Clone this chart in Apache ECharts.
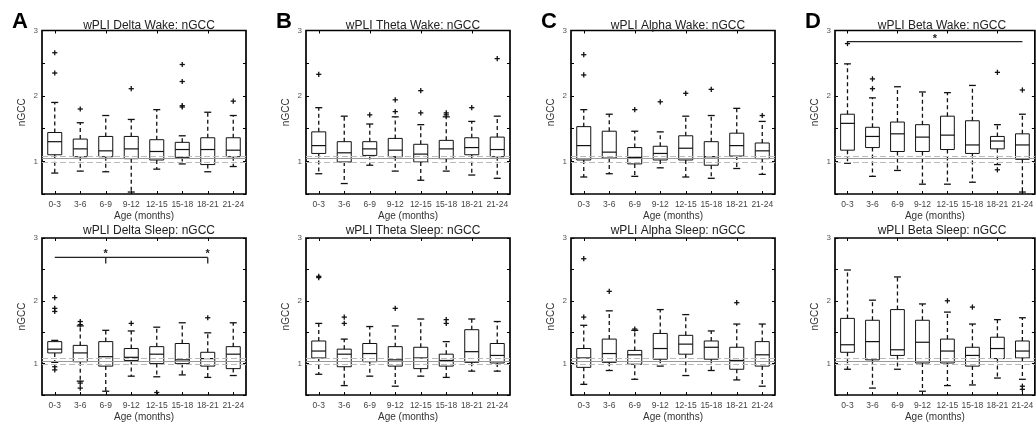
<!DOCTYPE html>
<html><head><meta charset="utf-8">
<script src="https://cdn.jsdelivr.net/npm/echarts@6/dist/echarts.min.js"></script>
<style>html,body{margin:0;padding:0;background:#fff}#c{width:1036px;height:423px}</style>
</head><body><div id="c"></div><script>
const categories = ['0-3','3-6','6-9','9-12','12-15','15-18','18-21','21-24'];
const yTicks = [0.5, 3, 0.5]; // min, max, interval
const refLevels = [1.08, 1.04, 0.99];

// [min, Q1, median, Q3, max]
const deltaWakeBox = [[0.82,1.10,1.30,1.44,1.90],[0.85,1.07,1.19,1.34,1.59],[0.84,1.07,1.16,1.38,1.70],[0.53,1.04,1.19,1.38,1.64],[0.88,1.02,1.15,1.33,1.79],[0.96,1.06,1.18,1.29,1.39],[0.84,0.95,1.18,1.36,1.75],[0.92,1.07,1.17,1.36,1.70]];
const deltaWakeOut = [[0,2.66],[0,2.35],[1,1.80],[3,2.11],[5,2.48],[5,2.22],[5,1.85],[5,1.83],[7,1.92]];
const deltaSleepBox = [[1.02,1.17,1.23,1.35,1.37],[0.72,1.03,1.17,1.29,1.60],[0.56,0.96,1.11,1.35,1.53],[0.80,1.05,1.10,1.24,1.52],[0.79,1.00,1.15,1.27,1.58],[0.82,1.00,1.06,1.32,1.65],[0.78,0.96,1.08,1.18,1.49],[0.81,0.92,1.15,1.27,1.65]];
const deltaSleepOut = [[0,2.05],[0,1.88],[0,1.83],[0,0.95],[0,0.90],[1,1.67],[1,1.62],[1,0.69],[1,0.61],[3,1.64],[4,0.54],[6,1.73]];
const thetaWakeBox = [[0.81,1.12,1.24,1.45,1.82],[0.66,0.99,1.13,1.30,1.69],[0.94,1.09,1.19,1.30,1.57],[0.85,1.07,1.17,1.35,1.68],[0.71,0.99,1.11,1.26,1.56],[0.85,1.04,1.19,1.32,1.68],[0.79,1.10,1.21,1.36,1.61],[0.74,1.07,1.18,1.37,1.69]];
const thetaWakeOut = [[0,2.33],[2,1.71],[3,1.94],[3,1.76],[4,2.08],[4,1.74],[5,1.74],[5,1.71],[6,1.82],[7,2.57]];
const thetaSleepBox = [[0.83,1.09,1.20,1.36,1.64],[0.65,0.95,1.15,1.23,1.39],[0.80,1.03,1.16,1.32,1.59],[0.64,0.96,1.06,1.27,1.60],[0.80,0.92,1.09,1.26,1.71],[0.78,0.96,1.05,1.15,1.35],[0.88,1.02,1.19,1.54,1.71],[0.88,1.01,1.13,1.32,1.67]];
const thetaSleepOut = [[0,2.39],[0,2.37],[1,1.74],[1,1.64],[3,1.88],[5,1.70],[5,1.64]];
const alphaWakeBox = [[0.76,1.02,1.24,1.53,1.79],[0.81,1.05,1.14,1.46,1.72],[0.77,0.96,1.06,1.21,1.46],[0.90,1.02,1.12,1.23,1.45],[0.76,1.02,1.20,1.39,1.69],[0.74,0.94,1.07,1.30,1.70],[0.89,1.08,1.24,1.43,1.81],[0.80,1.04,1.16,1.28,1.61]];
const alphaWakeOut = [[0,2.63],[0,2.32],[2,1.79],[3,1.91],[4,2.04],[5,2.10],[7,1.70]];
const alphaSleepBox = [[0.67,0.94,1.09,1.24,1.61],[0.89,1.02,1.16,1.39,1.84],[0.75,0.99,1.14,1.21,1.53],[0.96,1.07,1.24,1.48,1.86],[0.81,1.15,1.31,1.45,1.78],[0.89,1.07,1.26,1.36,1.52],[0.74,0.91,1.05,1.26,1.63],[0.64,0.96,1.14,1.35,1.63]];
const alphaSleepOut = [[0,2.67],[0,1.74],[1,2.15],[2,1.55],[6,1.97]];
const betaWakeBox = [[0.97,1.17,1.58,1.72,2.49],[0.77,1.21,1.38,1.52,1.97],[0.86,1.15,1.42,1.60,2.14],[0.65,1.15,1.37,1.56,2.06],[0.65,1.18,1.40,1.69,2.05],[0.68,1.12,1.25,1.62,2.16],[0.95,1.19,1.31,1.38,1.56],[0.53,1.03,1.25,1.42,1.72]];
const betaWakeOut = [[0,2.80],[1,2.26],[1,2.11],[6,2.36],[6,0.87],[7,2.09]];
const betaSleepBox = [[0.91,1.18,1.30,1.72,2.49],[0.61,1.06,1.35,1.69,2.01],[0.91,1.13,1.22,1.86,2.38],[0.56,1.01,1.34,1.69,1.95],[0.65,1.01,1.20,1.39,1.82],[0.66,0.96,1.13,1.26,1.63],[0.77,1.08,1.24,1.42,1.70],[0.75,1.09,1.20,1.36,1.73]];
const betaSleepOut = [[4,2.00],[5,1.90],[7,0.64],[7,0.59]];

// significance: [fromIdx, toIdx, level], star positions
const deltaSleepSig = [0, 6, 2.69];
const deltaSleepStars = [2, 6];
const betaWakeSig = [0, 7, 2.83];
const betaWakeStars = [3.5];

const panels = [
  {letter:'A', title:'wPLI Delta Wake: nGCC', box:deltaWakeBox, out:deltaWakeOut, col:0, row:0},
  {letter:null, title:'wPLI Delta Sleep: nGCC', box:deltaSleepBox, out:deltaSleepOut, col:0, row:1, sig:deltaSleepSig, stars:deltaSleepStars, tickDown:true},
  {letter:'B', title:'wPLI Theta Wake: nGCC', box:thetaWakeBox, out:thetaWakeOut, col:1, row:0},
  {letter:null, title:'wPLI Theta Sleep: nGCC', box:thetaSleepBox, out:thetaSleepOut, col:1, row:1},
  {letter:'C', title:'wPLI Alpha Wake: nGCC', box:alphaWakeBox, out:alphaWakeOut, col:2, row:0},
  {letter:null, title:'wPLI Alpha Sleep: nGCC', box:alphaSleepBox, out:alphaSleepOut, col:2, row:1},
  {letter:'D', title:'wPLI Beta Wake: nGCC', box:betaWakeBox, out:betaWakeOut, col:3, row:0, sig:betaWakeSig, stars:betaWakeStars, tickDown:false},
  {letter:null, title:'wPLI Beta Sleep: nGCC', box:betaSleepBox, out:betaSleepOut, col:3, row:1}
];

const colLeft = [42, 306, 571, 835];
const rowTop = [30.5, 238];
const rowH = [163.5, 162];
const titleTop = [14.5, 219.5];
const gridW = 204;
const FONT = '"Liberation Sans", Arial, sans-serif';

const grid = [], xAxis = [], yAxis = [], series = [], title = [], graphic = [];

panels.forEach((p, g) => {
  const left = colLeft[p.col], top = rowTop[p.row], h = rowH[p.row];
  grid.push({left: left, top: top, width: gridW, height: h, show: true, borderColor: '#000', borderWidth: 1.7, backgroundColor: 'transparent'});
  xAxis.push({type:'category', gridIndex:g, data:categories, position:'bottom', boundaryGap:true,
    axisLine:{show:false}, axisTick:{show:true, inside:true, alignWithLabel:true, length:3, lineStyle:{color:'#000'}},
    axisLabel:{fontSize:8.5, color:'#444', margin:6, fontFamily:FONT, interval:0},
    name:'Age (months)', nameLocation:'middle', nameGap:17, nameTextStyle:{fontSize:10, color:'#333', fontFamily:FONT}});
  xAxis.push({type:'category', gridIndex:g, data:categories, position:'top', boundaryGap:true,
    axisLine:{show:false}, axisTick:{show:true, inside:true, alignWithLabel:true, length:3, lineStyle:{color:'#000'}},
    axisLabel:{show:false}});
  yAxis.push({type:'value', gridIndex:g, min:yTicks[0], max:yTicks[1], interval:yTicks[2], position:'left',
    axisLine:{show:false}, splitLine:{show:false},
    axisTick:{show:true, inside:true, length:3, lineStyle:{color:'#000'}},
    axisLabel:{fontSize:8, color:'#555', margin:4, fontFamily:FONT, formatter: v => Number.isInteger(v) ? String(v) : ''},
    name:'nGCC', nameLocation:'middle', nameGap:15, nameTextStyle:{fontSize:10, color:'#333', fontFamily:FONT}});
  yAxis.push({type:'value', gridIndex:g, min:yTicks[0], max:yTicks[1], interval:yTicks[2], position:'right',
    axisLine:{show:false}, splitLine:{show:false},
    axisTick:{show:true, inside:true, length:3, lineStyle:{color:'#000'}}, axisLabel:{show:false}});

  const xi = g*2, yi = g*2;
  // reference lines
  series.push({type:'line', xAxisIndex:xi, yAxisIndex:yi, data:[], silent:true,
    markLine:{silent:true, symbol:'none', label:{show:false}, animation:false,
      data: refLevels.map((v, k) => ({yAxis:v, lineStyle:{color: k===1 ? '#999' : '#bbb', width:1, type: k===1 ? 'solid' : [6,3]}}))}});
  // boxes
  series.push({type:'custom', xAxisIndex:xi, yAxisIndex:yi,
    data: p.box.map((b, i) => [i].concat(b)),
    renderItem: (params, api) => {
      const i = api.value(0);
      const pMin = api.coord([i, api.value(1)]);
      const pQ1 = api.coord([i, api.value(2)]);
      const pMed = api.coord([i, api.value(3)]);
      const pQ3 = api.coord([i, api.value(4)]);
      const pMax = api.coord([i, api.value(5)]);
      const bw = api.size([1, 0])[0] * 0.55;
      const cw = bw * 0.5;
      const x = pMed[0];
      const st = {stroke:'#111', lineWidth:1, fill:null};
      const dash = {stroke:'#111', lineWidth:1.3, lineDash:[4,3], fill:null};
      return {type:'group', children:[
        {type:'line', shape:{x1:x, y1:pQ3[1], x2:x, y2:pMax[1]}, style:dash},
        {type:'line', shape:{x1:x, y1:pQ1[1], x2:x, y2:pMin[1]}, style:dash},
        {type:'line', shape:{x1:x-cw/2, y1:pMax[1], x2:x+cw/2, y2:pMax[1]}, style:{stroke:'#111', lineWidth:1.3}},
        {type:'line', shape:{x1:x-cw/2, y1:pMin[1], x2:x+cw/2, y2:pMin[1]}, style:{stroke:'#111', lineWidth:1.3}},
        {type:'rect', shape:{x:x-bw/2, y:pQ3[1], width:bw, height:pQ1[1]-pQ3[1]}, style:st},
        {type:'line', shape:{x1:x-bw/2, y1:pMed[1], x2:x+bw/2, y2:pMed[1]}, style:{stroke:'#111', lineWidth:1.2}}
      ]};
    }});
  // outliers
  series.push({type:'custom', xAxisIndex:xi, yAxisIndex:yi, data:p.out,
    renderItem: (params, api) => {
      const c = api.coord([api.value(0), api.value(1)]);
      const s = 2.6;
      return {type:'group', children:[
        {type:'line', shape:{x1:c[0]-s, y1:c[1], x2:c[0]+s, y2:c[1]}, style:{stroke:'#111', lineWidth:1.3}},
        {type:'line', shape:{x1:c[0], y1:c[1]-s, x2:c[0], y2:c[1]+s}, style:{stroke:'#111', lineWidth:1.3}}
      ]};
    }});
  if (p.sig) {
    const sig = p.sig, stars = p.stars, tickDown = p.tickDown;
    series.push({type:'custom', xAxisIndex:xi, yAxisIndex:yi, data:[[sig[0], sig[1], sig[2]]], clip:false,
      renderItem: (params, api) => {
        const a = api.coord([api.value(0), api.value(2)]);
        const b = api.coord([api.value(1), api.value(2)]);
        const step = api.size([1, 0])[0];
        const ch = [{type:'line', shape:{x1:a[0], y1:a[1], x2:b[0], y2:b[1]}, style:{stroke:'#222', lineWidth:1.3}}];
        stars.forEach(sIdx => {
          const sx = a[0] + (sIdx - api.value(0)) * step;
          if (tickDown) ch.push({type:'line', shape:{x1:sx, y1:a[1], x2:sx, y2:a[1]+6}, style:{stroke:'#222', lineWidth:1.3}});
          ch.push({type:'text', style:{text:'*', x:sx, y:a[1]-3, textAlign:'center', textVerticalAlign:'middle', fontSize:11, fontWeight:'bold', fill:'#222', fontFamily:FONT}});
        });
        return {type:'group', children:ch};
      }});
  }
  title.push({text:p.title, left: left + gridW/2, top: titleTop[p.row], textAlign:'center',
    textStyle:{fontSize:12, fontWeight:'normal', color:'#222', fontFamily:FONT}});
  if (p.letter) graphic.push({type:'text', left: left - 30, top: 11, style:{text:p.letter, fontSize:22, fontWeight:'bold', fill:'#000', fontFamily:FONT}});
});

const chart = echarts.init(document.getElementById('c'), null, {renderer:'canvas'});
chart.setOption({animation:false, backgroundColor:'#fff', grid, xAxis, yAxis, series, title, graphic});
</script></body></html>
